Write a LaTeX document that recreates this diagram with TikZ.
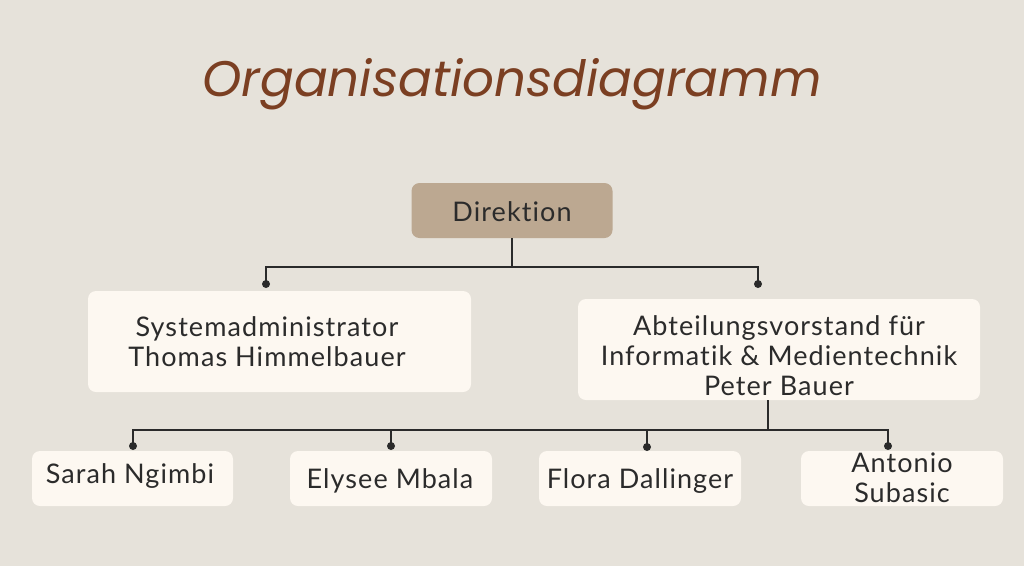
\documentclass[tikz,border=0pt]{standalone}
\usepackage{fontspec}
\setmainfont{Lato}[Ligatures=NoCommon, LetterSpace=4]
\newfontfamily\titlefont{Poppins}
\definecolor{bgc}{HTML}{E6E2DA}
\definecolor{boxc}{HTML}{FDF8F1}
\definecolor{headc}{HTML}{BCA891}
\definecolor{titlec}{HTML}{7B3F22}
\definecolor{txtc}{HTML}{2B2B2B}
\definecolor{linec}{HTML}{2A2A2A}
\tikzset{
  card/.style={fill=boxc, rounded corners=8pt, inner sep=0pt},
  headcard/.style={fill=headc, rounded corners=8pt, inner sep=0pt},
  lbl/.style={text=txtc, align=center, inner sep=0pt, font=\fontsize{27}{30}\selectfont},
  conn/.style={draw=linec, line width=1.8pt},
  dot/.style={circle, fill=linec, inner sep=0pt, minimum size=8pt},
}
\begin{document}
\begin{tikzpicture}[x=1pt,y=-1pt]
\useasboundingbox (0,0) rectangle (1024,566);
\fill[bgc] (0,0) rectangle (1024,566);
\node[text=titlec, inner sep=0pt, anchor=base, font=\titlefont\itshape\fontsize{50}{56}\selectfont] (title) at (512,96) {Organisationsdiagramm};

\node[headcard, minimum width=201pt, minimum height=55pt] (dir) at (512,210.5) {};
\node[lbl, anchor=base] (dirt) at (512,221) {Direktion};

\node[card, minimum width=383pt, minimum height=101pt] (sys) at (279.5,341.5) {};
\node[lbl] (syst) at (267,342) {Systemadministrator\\Thomas Himmelbauer};

\node[card, minimum width=402pt, minimum height=101pt] (abt) at (779,349.5) {};
\node[lbl] (abtt) at (779,356) {Abteilungsvorstand für\\Informatik \& Medientechnik\\Peter Bauer};

\node[card, minimum width=201pt, minimum height=55pt] (sar) at (132.5,478.5) {};
\node[lbl, anchor=base] (sart) at (130,483) {Sarah Ngimbi};
\node[card, minimum width=202pt, minimum height=55pt] (ely) at (391,478.5) {};
\node[lbl, anchor=base] (elyt) at (390,488) {Elysee Mbala};
\node[card, minimum width=202pt, minimum height=55pt] (flo) at (640,478.5) {};
\node[lbl, anchor=base] (flot) at (640,488) {Flora Dallinger};
\node[card, minimum width=202pt, minimum height=55pt] (ant) at (902,478.5) {};
\node[lbl] (antt) at (902,478) {Antonio\\Subasic};

% top level connectors
\coordinate (j1) at (512,267);
\node[dot] (d1) at (266,284) {};
\node[dot] (d2) at (758,284) {};
\draw[conn] (dir.south) -- (j1);
\draw[conn] (d1.center) |- (j1) -| (d2.center);

% second level
\coordinate (j2) at (768,430);
\node[dot] (e1) at (133,446) {};
\node[dot] (e2) at (391,446) {};
\node[dot] (e3) at (647,447) {};
\node[dot] (e4) at (888,446) {};
\draw[conn] (abt.south -| j2) -- (j2);
\draw[conn] (e1.center) |- (j2) -| (e4.center);
\draw[conn] (e2.center) -- (e2.center |- j2);
\draw[conn] (e3.center) -- (e3.center |- j2);
\end{tikzpicture}
\end{document}
